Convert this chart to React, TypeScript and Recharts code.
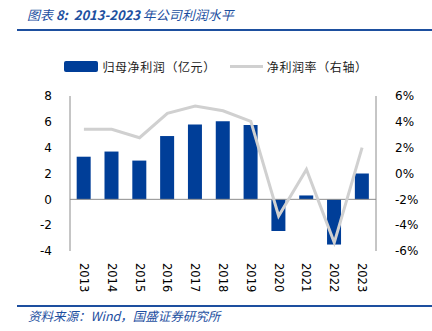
import React from "react";
import {
  ComposedChart,
  Bar,
  Line,
  XAxis,
  YAxis,
  ReferenceLine,
  Legend,
} from "recharts";

const years = ["2013", "2014", "2015", "2016", "2017", "2018", "2019", "2020", "2021", "2022", "2023"];
const netProfit = [3.3, 3.7, 3.0, 4.9, 5.8, 6.05, 5.75, -2.45, 0.3, -3.5, 2.0];
const netMargin = [3.42, 3.42, 2.77, 4.66, 5.22, 4.86, 4.04, -3.29, 0.32, -5.35, 2.0];
const leftTicks = [-4, -2, 0, 2, 4, 6, 8];
const rightTicks = [-6, -4, -2, 0, 2, 4, 6];

const data = years.map((year, i) => ({
  year,
  profit: netProfit[i],
  margin: netMargin[i],
}));

const BLUE = "#003e98";
const GRAY_LINE = "#d0d0d0";
const AXIS = "#8c8c8c";
const HEAD = "#1d4f9f";
const FONT = "'DejaVu Sans', Verdana, sans-serif";
const CJK = "'Noto Sans CJK SC', 'DejaVu Sans', sans-serif";

const YearTick = (props: any) => {
  const { x, y, payload } = props;
  return (
    <text
      x={x}
      y={y}
      transform={`rotate(90, ${x}, ${y})`}
      textAnchor="start"
      dominantBaseline="central"
      fontSize={11.5}
      fontFamily={FONT}
      fill="#000"
    >
      {payload.value}
    </text>
  );
};

const LegendContent = () => (
  <div
    style={{
      display: "flex",
      justifyContent: "center",
      alignItems: "center",
      fontFamily: CJK,
      fontSize: 12,
      letterSpacing: 0.6,
      color: "#222",
    }}
  >
    <span style={{ display: "inline-block", width: 34, height: 11, background: BLUE, borderRadius: 2, marginRight: 4 }} />
    <span>归母净利润（亿元）</span>
    <span style={{ display: "inline-block", width: 33, height: 3, background: GRAY_LINE, marginLeft: 14, marginRight: 4 }} />
    <span>净利润率（右轴）</span>
  </div>
);

export default function App() {
  return (
    <div style={{ position: "absolute", left: 0, top: 0, width: 432, height: 331, background: "#fff" }}>
      <div
        style={{
          position: "absolute",
          left: 27,
          top: 5,
          fontFamily: CJK,
          fontStyle: "italic",
          fontSize: 13,
          color: HEAD,
          whiteSpace: "nowrap",
        }}
      >
        图表 <span style={{ fontWeight: 700 }}>8:&nbsp; 2013-2023</span> 年公司利润水平
      </div>
      <div style={{ position: "absolute", left: 17, top: 29, width: 415, height: 2, background: HEAD }} />

      <ComposedChart
        width={432}
        height={331}
        data={data}
        margin={{ top: 96, right: 6, bottom: 40, left: 20 }}
        barCategoryGap="24%"
      >
        <Legend
          verticalAlign="middle"
          align="center"
          wrapperStyle={{ top: 58, left: 0, width: 432 }}
          content={<LegendContent />}
        />
        <XAxis
          dataKey="year"
          axisLine={false}
          tickLine={false}
          interval={0}
          height={40}
          tickMargin={6}
          tick={<YearTick />}
        />
        <YAxis
          yAxisId="left"
          domain={[-4, 8]}
          ticks={leftTicks}
          width={50}
          axisLine={{ stroke: AXIS }}
          tickLine={false}
          tickMargin={12}
          tick={{ fontSize: 12, fontFamily: FONT, fill: "#000" }}
        />
        <YAxis
          yAxisId="right"
          orientation="right"
          domain={[-6, 6]}
          ticks={rightTicks}
          width={50}
          axisLine={{ stroke: AXIS }}
          tickLine={false}
          tickMargin={13}
          tickFormatter={(v: number) => `${v}%`}
          tick={{ fontSize: 12, fontFamily: FONT, fill: "#000", textAnchor: "start" }}
        />
        <ReferenceLine yAxisId="left" y={0} stroke={AXIS} />
        <Bar yAxisId="left" dataKey="profit" name="归母净利润（亿元）" fill={BLUE} isAnimationActive={false} />
        <Line
          yAxisId="right"
          dataKey="margin"
          name="净利润率（右轴）"
          type="linear"
          stroke={GRAY_LINE}
          strokeWidth={3}
          dot={false}
          isAnimationActive={false}
        />
      </ComposedChart>

      <div style={{ position: "absolute", left: 17, top: 305, width: 415, height: 2, background: HEAD }} />
      <div
        style={{
          position: "absolute",
          left: 28,
          top: 306,
          fontFamily: CJK,
          fontStyle: "italic",
          fontSize: 12.5,
          color: HEAD,
          whiteSpace: "nowrap",
        }}
      >
        资料来源：Wind，国盛证券研究所
      </div>
    </div>
  );
}
